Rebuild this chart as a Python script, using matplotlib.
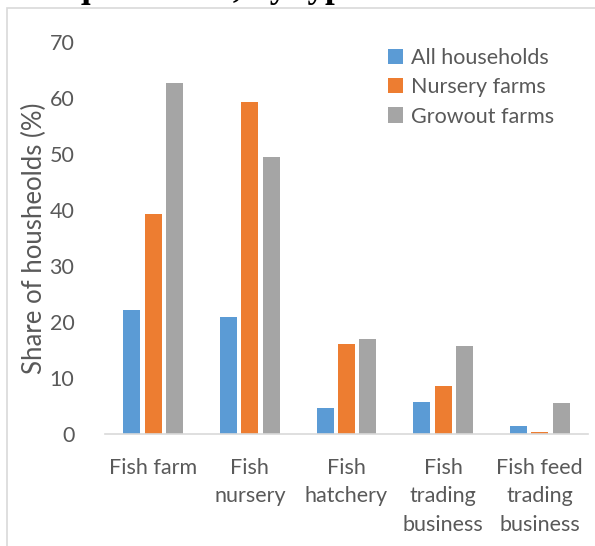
import matplotlib
matplotlib.use("Agg")
from matplotlib import pyplot as plt
from matplotlib.patches import Rectangle
import numpy as np

categories = ["Fish farm", "Fish\nnursery", "Fish\nhatchery", "Fish\ntrading\nbusiness", "Fish feed\ntrading\nbusiness"]
all_households = [22.1, 20.9, 4.6, 5.7, 1.4]
nursery_farms = [39.3, 59.3, 16.1, 8.6, 0.4]
growout_farms = [62.7, 49.5, 17.0, 15.7, 5.5]
series_names = ["All households", "Nursery farms", "Growout farms"]
colors = ["#5b9bd5", "#ed7d31", "#a5a5a5"]
yticks = [0, 10, 20, 30, 40, 50, 60, 70]

W, H = 595, 546
plt.rcParams['font.family'] = ['Lato', 'DejaVu Sans']
fig = plt.figure(figsize=(W / 100, H / 100), dpi=100)

# chart frame (cut off on right and bottom)
fig.patches.append(Rectangle((7 / W, -0.1), 1.2, 1.1 - 8 / H, transform=fig.transFigure,
                             fill=False, edgecolor="#d9d9d9", linewidth=1.2))
# cropped title above the frame, only its lower edge shows
fig.text(305 / W, 1 + 3 / H, "aquaculture, by type of household", ha="center", va="baseline",
         fontsize=25, fontweight="bold", family="Liberation Serif", color="black")

ax = fig.add_axes([105 / W, (H - 434) / H, (588 - 105) / W, (434 - 42) / H])
x = np.arange(len(categories))
width = 0.175
step = 0.222
for i, (vals, name, c) in enumerate(zip([all_households, nursery_farms, growout_farms], series_names, colors)):
    ax.bar(x + (i - 1) * step, vals, width, color=c, label=name, zorder=2)

ax.set_xlim(-0.5, len(categories) - 0.5)
ax.set_ylim(0, 70)
ax.set_yticks(yticks)
ax.set_xticks(x)
ax.set_xticklabels(categories, linespacing=1.55)
for s in ["top", "right", "left"]:
    ax.spines[s].set_visible(False)
ax.spines["bottom"].set_color("#d9d9d9")
ax.spines["bottom"].set_linewidth(1.2)
ax.tick_params(axis="both", length=0, labelsize=15.5, labelcolor="#595959")
ax.tick_params(axis="y", pad=22)
ax.tick_params(axis="x", pad=17)
ax.set_ylabel("Share of housheolds (%)", fontsize=18.5, color="#595959", labelpad=2)

leg = ax.legend(loc="upper right", bbox_to_anchor=(0.971, 1.033), frameon=False, fontsize=15.5,
                handlelength=0.7, handleheight=0.7, handletextpad=0.4, labelspacing=0.42)
for t in leg.get_texts():
    t.set_color("#595959")

fig.savefig("out.png", dpi=100)
